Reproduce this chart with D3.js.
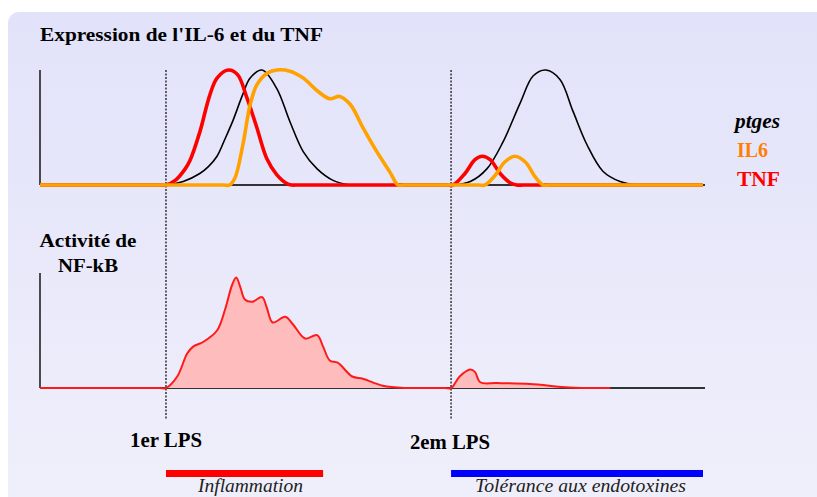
<!DOCTYPE html>
<html>
<head>
<meta charset="utf-8">
<script src="https://cdn.jsdelivr.net/npm/d3@7"></script>
<style>
  body { margin: 0; background: #fff; }
</style>
</head>
<body>
<div id="chart"></div>
<script>
// time in arbitrary units, level from 0 (baseline) to 1 (peak)
const tnf = [[0,0],[18,0],[19,0],[20.4,0.04],[21.9,0.14],[22.6,0.21],[24.1,0.46],[25.6,0.78],[26.7,0.93],[28.4,1],[29.8,0.96],
  [31.2,0.76],[32.7,0.5],[34.2,0.23],[35.7,0.09],[37.3,0.01],[38,0],[39,0],[61.3,0],[62.3,0],[64.1,0.1],[65.6,0.22],[66.7,0.25],
  [67.9,0.22],[69.4,0.1],[70.9,0.02],[71.9,0],[72.9,0],[100,0]];
const ptges = [[0,0],[18,0],[19,0],[21.6,0.03],[24.1,0.1],[25.4,0.16],[26.7,0.25],[27.9,0.4],[29.1,0.56],[30.6,0.79],[31.7,0.93],
  [33.5,1],[35.7,0.84],[37.7,0.55],[39.7,0.29],[41.8,0.14],[44.2,0.04],[46.8,0],[47.8,0],[61.3,0],[62.3,0],[64.9,0.03],[67.4,0.14],
  [69.8,0.37],[72.4,0.71],[74.4,0.95],[76.3,1],[78.4,0.92],[80.4,0.64],[82.5,0.35],[84.9,0.12],[87.5,0.03],[90,0],[91,0],[100,0]];
const il6 = [[0,0],[27.6,0],[28.6,0],[29.4,0.06],[30.6,0.35],[31.7,0.7],[32.7,0.87],[34.2,0.97],[35.7,1],[37.7,0.99],[39.7,0.93],
  [41.8,0.82],[43.7,0.75],[45.2,0.77],[46.8,0.7],[48.7,0.5],[50.8,0.29],[52.8,0.11],[54,0],[55,0],[66.1,0],[67.1,0],[68.6,0.08],
  [70.1,0.2],[71.6,0.25],[73.2,0.2],[74.7,0.07],[75.9,0],[76.9,0],[100,0]];
const nfkb = [[0,0],[18,0],[19,0],[20.7,0.1],[22.2,0.3],[23.1,0.36],[24.6,0.4],[26.7,0.5],[27.9,0.68],[29,0.9],[29.6,0.96],
  [30.2,0.88],[30.9,0.77],[32,0.75],[33.5,0.79],[34.2,0.7],[35.1,0.57],[37,0.62],[38.2,0.55],[40,0.43],[41.8,0.46],
  [42.7,0.36],[43.7,0.24],[44.9,0.22],[47.1,0.1],[48.7,0.08],[51.7,0.02],[55.1,0],[56.1,0],[61,0],[62,0],[63.3,0.1],[64.9,0.16],
  [65.6,0.14],[66.4,0.05],[68.9,0.043],[73.9,0.035],[79.9,0.005],[85,0],[86,0]];
const lpsTimes = [19, 62];
const lpsLabels = ["1er LPS", "2em LPS"];
const phases = [{name: "Inflammation", from: 19, to: 42.7, color: "#ff0000"},
                {name: "Tolérance aux endotoxines", from: 62, to: 100, color: "#0000ff"}];
const legendNames = ["ptges", "IL6", "TNF"];
const legendColors = ["#000", "#ff7f00", "#ff0000"];

const W = 817, H = 497;
const FONT = "'Liberation Serif', 'Times New Roman', serif";
const svg = d3.select("#chart").append("svg").attr("width", W).attr("height", H);

const grad = svg.append("defs").append("linearGradient")
  .attr("id", "bg").attr("x1", 0).attr("y1", 0).attr("x2", 0).attr("y2", 1);
grad.append("stop").attr("offset", "0%").attr("stop-color", "#e2e2fa");
grad.append("stop").attr("offset", "100%").attr("stop-color", "#f0f0fb");

svg.append("rect").attr("x", 8).attr("y", 12).attr("width", W + 20).attr("height", H + 20)
  .attr("rx", 11).attr("fill", "url(#bg)");

const x = d3.scaleLinear().domain([0, 100]).range([40, 703]);
const yTop = d3.scaleLinear().domain([0, 1]).range([185, 70]);
const yBot = d3.scaleLinear().domain([0, 1]).range([388, 273]);
const curve = d3.curveCatmullRom.alpha(0.5);

// axes
function axes(y) {
  svg.append("line").attr("x1", x(0)).attr("x2", x(0)).attr("y1", y(1)).attr("y2", y(0))
    .attr("stroke", "#222").attr("stroke-width", 1.6);
  svg.append("line").attr("x1", x(0)).attr("x2", x(100) + 2).attr("y1", y(0)).attr("y2", y(0))
    .attr("stroke", "#333").attr("stroke-width", 2);
}
axes(yTop);
axes(yBot);

// LPS markers
svg.selectAll(".lps").data(lpsTimes).join("line")
  .attr("x1", d => x(d)).attr("x2", d => x(d))
  .attr("y1", yTop(1)).attr("y2", 419)
  .attr("stroke", "#333").attr("stroke-width", 1.5).attr("stroke-dasharray", "2,1.5");

// expression curves
const lineTop = d3.line().x(d => x(d[0])).y(d => yTop(d[1])).curve(curve);
[[ptges, "#000", 1.6], [tnf, "#ff0000", 3.6], [il6, "#ffa200", 3.6]].forEach(([data, color, w]) => {
  svg.append("path").attr("d", lineTop(data)).attr("fill", "none")
    .attr("stroke", color).attr("stroke-width", w).attr("stroke-linejoin", "round");
});

// NF-kB activity
const areaBot = d3.area().x(d => x(d[0])).y0(yBot(0)).y1(d => yBot(d[1])).curve(curve);
const lineBot = d3.line().x(d => x(d[0])).y(d => yBot(d[1])).curve(curve);
svg.append("path").attr("d", areaBot(nfkb)).attr("fill", "#ffbcbc");
svg.append("path").attr("d", lineBot(nfkb)).attr("fill", "none")
  .attr("stroke", "#ff1a1a").attr("stroke-width", 2);

// texts, stretched to the widths seen in the original slide
function label(txt, px, py, size, len, opts) {
  opts = opts || {};
  return svg.append("text").attr("x", px).attr("y", py)
    .attr("font-family", FONT).attr("font-size", size)
    .attr("font-weight", opts.weight || "bold")
    .attr("font-style", opts.style || "normal")
    .attr("text-anchor", opts.anchor || "start")
    .attr("fill", opts.fill || "#000")
    .attr("textLength", len).attr("lengthAdjust", "spacingAndGlyphs")
    .text(txt);
}
label("Expression de l'IL-6 et du TNF", 40, 41, 19, 283);
label("Activité de", 88, 247, 19, 97, {anchor: "middle"});
label("NF-kB", 88, 272, 19, 60, {anchor: "middle"});

// legend
const legendLen = [45, 31, 43];
legendNames.forEach((d, i) => {
  label(d, i === 0 ? 735 : 737, 128 + i * 29, 20, legendLen[i],
    {style: i === 0 ? "italic" : "normal", fill: legendColors[i]});
});

// LPS labels
const lpsLen = [72, 80];
lpsLabels.forEach((d, i) => label(d, i === 0 ? 130 : 410, 447 + i * 2, 20, lpsLen[i]));

// phase bars
svg.selectAll(".phase").data(phases).join("rect")
  .attr("x", d => x(d.from)).attr("width", d => x(d.to) - x(d.from))
  .attr("y", 470).attr("height", 7).attr("fill", d => d.color);
const phaseLen = [105, 211];
phases.forEach((d, i) => label(d.name, i === 0 ? 198 : 475, 492, 19, phaseLen[i],
  {weight: "normal", style: "italic", fill: "#222"}));
</script>
</body>
</html>
